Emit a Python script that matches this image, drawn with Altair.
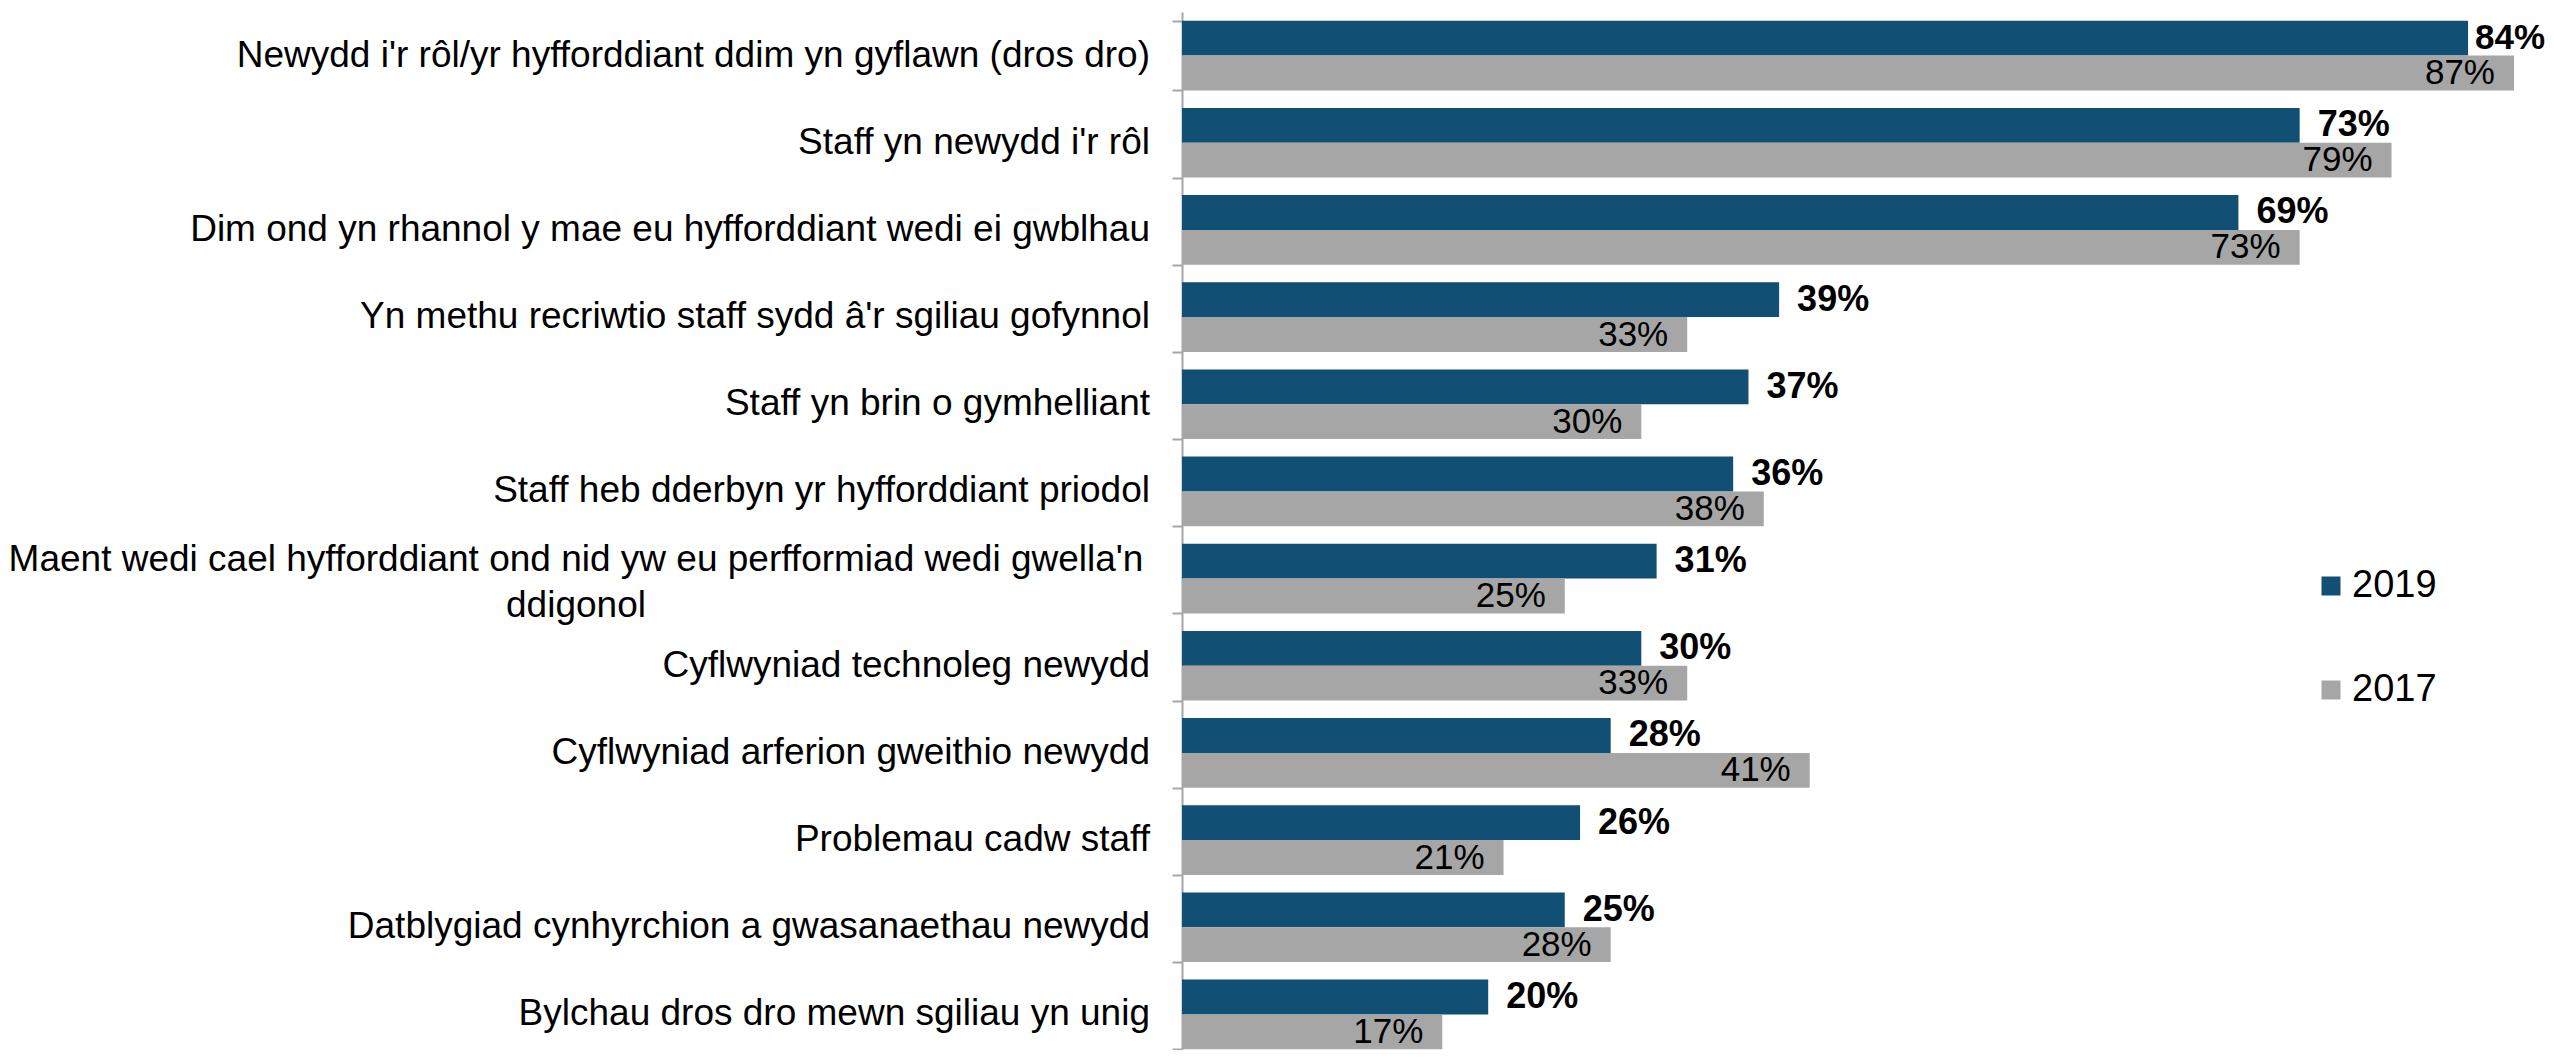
import altair as alt
import pandas as pd

categories = [
    "Newydd i'r rôl/yr hyfforddiant ddim yn gyflawn (dros dro)",
    "Staff yn newydd i'r rôl",
    "Dim ond yn rhannol y mae eu hyfforddiant wedi ei gwblhau",
    "Yn methu recriwtio staff sydd â'r sgiliau gofynnol",
    "Staff yn brin o gymhelliant",
    "Staff heb dderbyn yr hyfforddiant priodol",
    "Maent wedi cael hyfforddiant ond nid yw eu perfformiad wedi gwella'n\nddigonol",
    "Cyflwyniad technoleg newydd",
    "Cyflwyniad arferion gweithio newydd",
    "Problemau cadw staff",
    "Datblygiad cynhyrchion a gwasanaethau newydd",
    "Bylchau dros dro mewn sgiliau yn unig",
]
values_2019 = [84, 73, 69, 39, 37, 36, 31, 30, 28, 26, 25, 20]
values_2017 = [87, 79, 73, 33, 30, 38, 25, 33, 41, 21, 28, 17]
series = ["2019", "2017"]
colors = ["#124F75", "#A6A6A6"]

rows = []
for c, a, b in zip(categories, values_2019, values_2017):
    rows.append({"category": c, "series": "2019", "value": a, "label": f"{a}%"})
    rows.append({"category": c, "series": "2017", "value": b, "label": f"{b}%"})
df = pd.DataFrame(rows)
cat_df = pd.DataFrame({"category": categories})

FONT = "Liberation Sans"

y = alt.Y(
    "category:N",
    sort=categories,
    title=None,
    scale=alt.Scale(paddingInner=0.2, paddingOuter=0.1, range=[0, 1046]),
    axis=alt.Axis(
        labels=False,
        domainColor="#A6A6A6",
        domainWidth=2,
        tickColor="#A6A6A6",
        tickWidth=2,
        tickSize=10,
        tickBand="extent",
        grid=False,
    ),
)
yoff = alt.YOffset("series:N", sort=series)
x = alt.X("value:Q", axis=None, scale=alt.Scale(domain=[0, 87], nice=False))

bars = alt.Chart(df).mark_bar().encode(
    y=y,
    yOffset=yoff,
    x=x,
    color=alt.Color(
        "series:N",
        scale=alt.Scale(domain=series, range=colors),
        legend=alt.Legend(
            title=None,
            orient="none",
            legendX=1130,
            legendY=555,
            symbolType="square",
            symbolSize=361,
            labelFontSize=38,
            labelFont=FONT,
            labelColor="#000000",
            labelOffset=2,
            rowPadding=66,
            padding=0,
        ),
    ),
)

text19 = alt.Chart(df).transform_filter("datum.series == '2019' && datum.value < 80").mark_text(
    align="left", baseline="middle", dx=18, fontWeight="bold", fontSize=36, font=FONT, color="#000000"
).encode(y=y, yOffset=yoff, x=x, text="label:N")

text19_edge = alt.Chart(df).transform_filter("datum.series == '2019' && datum.value >= 80").mark_text(
    align="left", baseline="middle", dx=7, fontWeight="bold", fontSize=35, font=FONT, color="#000000"
).encode(y=y, yOffset=yoff, x=x, text="label:N")

text17 = alt.Chart(df).transform_filter("datum.series == '2017'").mark_text(
    align="right", baseline="middle", dx=-19, fontSize=35, font=FONT, color="#000000"
).encode(y=y, yOffset=yoff, x=x, text="label:N")

cat_right = alt.Chart(cat_df).transform_filter("indexof(datum.category, '\\n') < 0").mark_text(
    align="right", baseline="middle", fontSize=37, font=FONT, color="#000000"
).encode(y=y, x=alt.value(-32), text="category:N")

cat_center = alt.Chart(cat_df).transform_filter("indexof(datum.category, '\\n') >= 0").mark_text(
    align="center", baseline="middle", dy=-19, fontSize=37, font=FONT, color="#000000", lineBreak="\n", lineHeight=46
).encode(y=y, x=alt.value(-606), text="category:N")

chart = (
    alt.layer(bars, text19, text19_edge, text17, cat_right, cat_center)
    .properties(
        width=1332,
        height=1038,
        padding={"left": 1174, "top": 4, "right": 32, "bottom": 0},
        autosize=alt.AutoSizeParams(type="none"),
    )
    .configure_view(stroke=None)
)

chart.save("out.html", embed_options={"renderer": "svg", "actions": False})
